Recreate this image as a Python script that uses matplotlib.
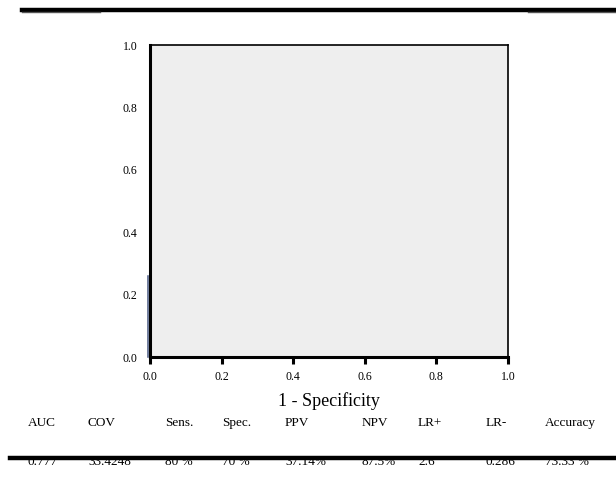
import matplotlib
matplotlib.use("Agg")
import matplotlib.pyplot as plt
from matplotlib.lines import Line2D
from matplotlib import transforms

plt.rcParams['font.family'] = ['Liberation Serif', 'DejaVu Serif']

# ROC curve points (only the first segment is visible)
fpr = [0.0, 0.0]
tpr = [0.0, 0.26]

ticks = [0.0, 0.2, 0.4, 0.6, 0.8, 1.0]
tick_labels = ['0.0', '0.2', '0.4', '0.6', '0.8', '1.0']

headers = ['AUC', 'COV', 'Sens.', 'Spec.', 'PPV', 'NPV', 'LR+', 'LR-', 'Accuracy']
values = ['0.777', '33.4248', '80 %', '70 %', '37.14%', '87.5%', '2.6', '0.286', '73.33 %']
col_x = [28, 88, 165, 222, 285, 362, 418, 486, 545]  # pixel left edges

W, H = 616, 484
fig = plt.figure(figsize=(W / 100, H / 100), dpi=100)
ax = fig.add_axes([150 / W, 1 - 357 / H, 358 / W, 312 / H])
ax.set_facecolor('#eeeeee')

off = transforms.offset_copy(ax.transData, fig=fig, x=-2, y=0, units='dots')
ax.plot(fpr, tpr, color='#4a5a82', lw=1.1, transform=off, clip_on=False, zorder=5)

ax.set_xlim(0, 1)
ax.set_ylim(0, 1)
ax.set_xticks(ticks)
ax.set_xticklabels(tick_labels)
ax.set_yticks(ticks)
ax.set_yticklabels(tick_labels)
ax.set_yticks([0.0], minor=True)
ax.tick_params(axis='y', which='major', length=0, pad=9, labelsize=8.5)
ax.tick_params(axis='y', which='minor', length=8, width=2.2, direction='out')
ax.tick_params(axis='x', which='major', length=5, width=2.2, direction='out', pad=5, labelsize=8.5)
for s in ['left', 'bottom']:
    ax.spines[s].set_linewidth(2.2)
for s in ['top', 'right']:
    ax.spines[s].set_linewidth(1.2)

ax.set_xlabel('1 - Specificity', fontsize=13, labelpad=7)

# table of statistics under the plot
for x, h, v in zip(col_x, headers, values):
    fig.text(x / W, 1 - 423 / H, h, fontsize=9.5, ha='left', va='center')
    fig.text(x / W, 1 - 462 / H, v, fontsize=9.5, ha='left', va='center')

# decorative rules
fig.add_artist(Line2D([22 / W, 1], [1 - 9.5 / H] * 2, color='black', lw=3.2))
fig.add_artist(Line2D([22 / W, 100 / W], [1 - 12 / H] * 2, color='#555555', lw=1.0))
fig.add_artist(Line2D([528 / W, 1], [1 - 12 / H] * 2, color='#555555', lw=1.0))
fig.add_artist(Line2D([10 / W, 1], [1 - 458 / H] * 2, color='black', lw=3.2, zorder=10))

fig.savefig('out.png', dpi=100)
